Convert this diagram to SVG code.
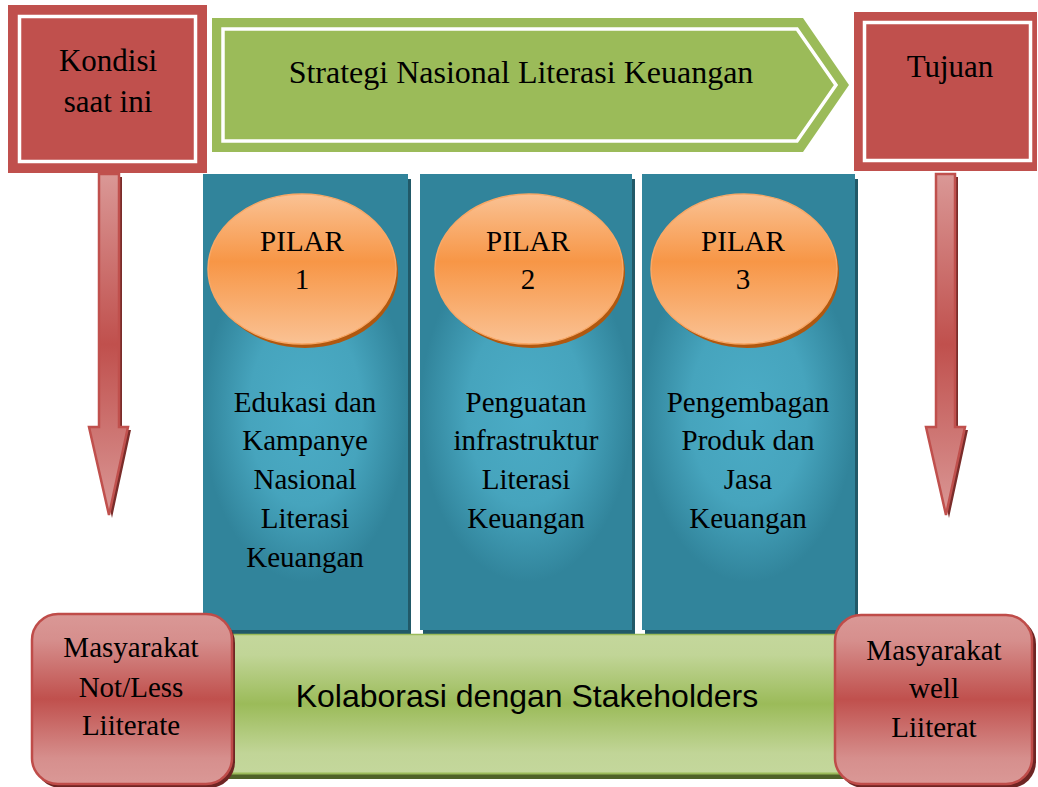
<svg xmlns="http://www.w3.org/2000/svg" width="1038" height="787" viewBox="0 0 1038 787">
  <defs>
    <linearGradient id="redV" x1="0" y1="0" x2="0" y2="1">
      <stop offset="0" stop-color="#da9896"/>
      <stop offset="0.15" stop-color="#d68f8d"/>
      <stop offset="0.5" stop-color="#c0504d"/>
      <stop offset="0.85" stop-color="#d68f8d"/>
      <stop offset="1" stop-color="#da9896"/>
    </linearGradient>
    <linearGradient id="arrowV" gradientUnits="userSpaceOnUse" x1="0" y1="174" x2="0" y2="515">
      <stop offset="0" stop-color="#da9896"/>
      <stop offset="0.5" stop-color="#c0504d"/>
      <stop offset="1" stop-color="#da9896"/>
    </linearGradient>
    <linearGradient id="greenV" x1="0" y1="0" x2="0" y2="1">
      <stop offset="0" stop-color="#c4d79c"/>
      <stop offset="0.15" stop-color="#c1d597"/>
      <stop offset="0.5" stop-color="#9bbb59"/>
      <stop offset="0.85" stop-color="#c1d597"/>
      <stop offset="1" stop-color="#c4d79c"/>
    </linearGradient>
    <linearGradient id="orangeV" x1="0" y1="0" x2="0" y2="1">
      <stop offset="0" stop-color="#fac294"/>
      <stop offset="0.45" stop-color="#f79646"/>
      <stop offset="1" stop-color="#fac294"/>
    </linearGradient>
    <radialGradient id="tealR" cx="0.5" cy="0.52" r="0.5" fx="0.5" fy="0.52" gradientTransform="translate(0.5 0.52) scale(1 0.75) translate(-0.5 -0.52)">
      <stop offset="0" stop-color="#4bacc6"/>
      <stop offset="0.55" stop-color="#46a4bd"/>
      <stop offset="1" stop-color="#31849b"/>
    </radialGradient>
    <style>
      .serif { font-family: "Liberation Serif", "Times New Roman", serif; fill: #000; text-anchor: middle; }
      .t29 { font-size: 29px; }
      .t31 { font-size: 31px; }
      .t32 { font-size: 32px; }
      .sans { font-family: "Liberation Sans", Arial, sans-serif; font-size: 32px; fill: #000; text-anchor: middle; }
      .frame { fill: #c0504d; }
      .inline { fill: none; stroke: #ffffff; stroke-width: 3.5; }
      .col { fill: url(#tealR); }
      .colShadow { fill: #215968; }
      .oval { fill: url(#orangeV); stroke: #f9a866; stroke-width: 1.5; }
      .ovalShadow { fill: #b0580f; }
      .pill { fill: url(#redV); stroke: #bf4c49; stroke-width: 2.5; }
      .pillShadow { fill: #6e2523; }
      .arrow { fill: url(#arrowV); stroke: #c0504d; stroke-width: 2.5; stroke-linejoin: miter; }
      .arrowShadow { fill: #7a2c2a; }
    </style>
  </defs>

  <rect width="1038" height="787" fill="#ffffff"/>

  <!-- pillar columns -->
  <g id="pillar-1">
    <rect class="colShadow" x="206" y="179" width="205" height="456"/>
    <rect class="col" x="203" y="174" width="205" height="456"/>
    <ellipse class="ovalShadow" cx="305" cy="273" rx="93" ry="75"/>
    <ellipse class="oval" cx="302" cy="269" rx="94" ry="75"/>
    <text class="serif t29" x="302" y="251">PILAR</text>
    <text class="serif t29" x="302" y="289">1</text>
    <text class="serif t29" x="305" y="412">Edukasi dan</text>
    <text class="serif t29" x="305" y="450">Kampanye</text>
    <text class="serif t29" x="305" y="489">Nasional</text>
    <text class="serif t29" x="305" y="528">Literasi</text>
    <text class="serif t29" x="305" y="567">Keuangan</text>
  </g>

  <g id="pillar-2">
    <rect class="colShadow" x="423" y="179" width="212" height="456"/>
    <rect class="col" x="420" y="174" width="212" height="456"/>
    <ellipse class="ovalShadow" cx="532" cy="273" rx="93" ry="75"/>
    <ellipse class="oval" cx="529" cy="269" rx="94" ry="75"/>
    <text class="serif t29" x="528" y="251">PILAR</text>
    <text class="serif t29" x="528" y="289">2</text>
    <text class="serif t29" x="526" y="412">Penguatan</text>
    <text class="serif t29" x="526" y="450">infrastruktur</text>
    <text class="serif t29" x="526" y="489">Literasi</text>
    <text class="serif t29" x="526" y="528">Keuangan</text>
  </g>

  <g id="pillar-3">
    <rect class="colShadow" x="645" y="179" width="213" height="456"/>
    <rect class="col" x="642" y="174" width="213" height="456"/>
    <ellipse class="ovalShadow" cx="747" cy="273" rx="92" ry="75"/>
    <ellipse class="oval" cx="744" cy="269" rx="93" ry="75"/>
    <text class="serif t29" x="743" y="251">PILAR</text>
    <text class="serif t29" x="743" y="289">3</text>
    <text class="serif t29" x="748" y="412">Pengembagan</text>
    <text class="serif t29" x="748" y="450">Produk dan</text>
    <text class="serif t29" x="748" y="489">Jasa</text>
    <text class="serif t29" x="748" y="528">Keuangan</text>
  </g>

  <!-- collaboration bar -->
  <g id="kolaborasi">
    <rect x="220" y="636" width="630" height="143" fill="#4f6228"/>
    <rect x="220" y="634" width="630" height="140" fill="url(#greenV)"/>
    <line x1="220" y1="634.5" x2="850" y2="634.5" stroke="#9bbb59" stroke-width="1.5"/>
    <line x1="220" y1="773.5" x2="850" y2="773.5" stroke="#9bbb59" stroke-width="2"/>
    <text class="sans" x="527" y="707">Kolaborasi dengan Stakeholders</text>
  </g>

  <!-- top frames -->
  <g id="kondisi">
    <rect class="frame" x="8" y="5" width="199" height="168"/>
    <rect class="inline" x="19.5" y="16.5" width="176" height="145"/>
    <text class="serif t31" x="108" y="71">Kondisi</text>
    <text class="serif t31" x="108" y="112">saat ini</text>
  </g>

  <g id="strategi">
    <polygon points="212,18 803,18 849,85 803,152 212,152" fill="#9bbb59"/>
    <polygon points="223,29 797,29 836,85 797,141 223,141" fill="none" stroke="#ffffff" stroke-width="3.5"/>
    <text class="serif t32" x="521" y="83">Strategi Nasional Literasi Keuangan</text>
  </g>

  <g id="tujuan">
    <rect class="frame" x="854" y="12" width="183" height="159"/>
    <rect class="inline" x="864.5" y="22.5" width="166" height="138"/>
    <text class="serif t31" x="950" y="77">Tujuan</text>
  </g>

  <!-- connectors: downward arrows -->
  <g id="connectors">
    <g id="arrow-left">
      <polygon class="arrowShadow" points="102,177 122,177 122,430 131,430 112,518 92,430 102,430"/>
      <polygon class="arrow" points="99,174 119,174 119,427 128,427 109,515 89,427 99,427"/>
    </g>
    <g id="arrow-right">
      <polygon class="arrowShadow" points="939,177 958,177 958,430 968,430 949,518 929,430 939,430"/>
      <polygon class="arrow" points="936,174 955,174 955,427 965,427 946,515 926,427 936,427"/>
    </g>
  </g>

  <!-- outcome boxes -->
  <g id="masyarakat-less">
    <rect class="pillShadow" x="35" y="617" width="200" height="171" rx="26"/>
    <rect class="pill" x="32" y="614" width="200" height="170" rx="26"/>
    <text class="serif t29" x="131" y="657">Masyarakat</text>
    <text class="serif t29" x="131" y="697">Not/Less</text>
    <text class="serif t29" x="131" y="735">Liiterate</text>
  </g>

  <g id="masyarakat-well">
    <rect class="pillShadow" x="838" y="618" width="198" height="170" rx="26"/>
    <rect class="pill" x="835" y="615" width="197" height="169" rx="26"/>
    <text class="serif t29" x="934" y="660">Masyarakat</text>
    <text class="serif t29" x="934" y="698">well</text>
    <text class="serif t29" x="934" y="737">Liiterat</text>
  </g>
</svg>
